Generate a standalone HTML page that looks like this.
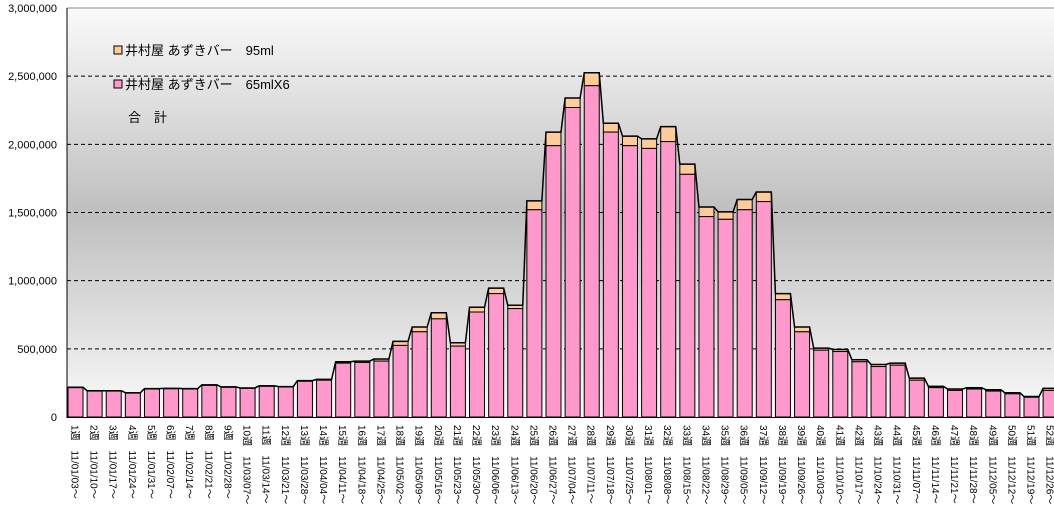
<!DOCTYPE html>
<html><head><meta charset="utf-8"><style>
body{margin:0;background:#fff;}
text{font-family:"Liberation Sans","Noto Sans CJK JP",sans-serif;}
</style></head><body>
<svg id="c" width="1054" height="517" xmlns="http://www.w3.org/2000/svg">
<defs><linearGradient id="bg" x1="0" y1="0" x2="0" y2="1">
<stop offset="0" stop-color="#fafafa"/><stop offset="0.5" stop-color="#bfbfbf"/><stop offset="1" stop-color="#fafafa"/></linearGradient></defs>
<rect x="67" y="8" width="990" height="409" fill="url(#bg)"/>
<line x1="67" y1="8" x2="1054" y2="8" stroke="#888"/>
<g id="grid"></g><g id="bars"></g><g id="lab"></g>
<line x1="67" y1="8" x2="67" y2="418" stroke="#000"/>
<line x1="67" y1="417.5" x2="1054" y2="417.5" stroke="#000"/>
<g>
<rect x="114" y="46" width="8" height="8" fill="#ffcc99" stroke="#000"/>
<text x="125" y="55" font-size="13">井村屋 あずきバー　95ml</text>
<rect x="114" y="80" width="8" height="8" fill="#ff99cc" stroke="#000"/>
<text x="125" y="89" font-size="13">井村屋 あずきバー　65mlX6</text>
<text x="128" y="122" font-size="13">合　計</text>
</g>
</svg>
<script>
const pinkVals=[215,190,190,175,205,207,205,232,218,210,225,220,262,270,395,400,410,525,625,720,520,770,905,795,1520,1990,2270,2430,2090,1990,1970,2020,1780,1470,1450,1520,1580,860,625,490,480,405,370,380,270,215,195,205,190,170,145,195];
const totalVals=[218,193,193,178,208,210,208,236,221,213,229,223,267,276,405,410,425,555,660,765,545,805,945,820,1585,2090,2340,2525,2155,2060,2040,2130,1855,1540,1505,1595,1650,905,660,505,495,420,385,395,285,225,205,215,200,178,150,210];
const UNIT=1000;
const yTicks=[0,500000,1000000,1500000,2000000,2500000,3000000];
const startDate=[2011,0,3];
const NS="http://www.w3.org/2000/svg";
const y=v=>417-v/3000000*409;
const yb=v=>y(v*UNIT);
const x=i=>68+i*19.12;
const W=15;
function mk(t,a,p){const e=document.createElementNS(NS,t);for(const k in a)e.setAttribute(k,a[k]);p.appendChild(e);return e;}
const grid=document.getElementById('grid'),bars=document.getElementById('bars'),lab=document.getElementById('lab');
yTicks.forEach((v,i)=>{
 if(v>0&&v<3000000){const l=mk('line',{x1:67,x2:1054,y1:y(v),y2:y(v),stroke:'#000','stroke-dasharray':'4,3'},grid);
 
 }
 const t=mk('text',{x:57,y:y(v)+4,'text-anchor':'end','font-size':11},lab);
 t.textContent=v.toLocaleString('en-US');
 
 
});
let pts=[];
pinkVals.forEach((p,i)=>{
 const tot=totalVals[i],x0=x(i);
 const o=mk('rect',{x:x0,y:yb(tot),width:W,height:Math.max(0,yb(p)-yb(tot)),fill:'#ffcc99',stroke:'#000','stroke-width':1},bars);
 
 
 const r=mk('rect',{x:x0,y:yb(p),width:W,height:417-yb(p),fill:'#ff99cc',stroke:'#000','stroke-width':1},bars);
 
 
 pts.push(x0+','+yb(tot),(x0+W)+','+yb(tot));
 const d=new Date(startDate[0],startDate[1],startDate[2]+7*i);
 const s=String(d.getFullYear()%100).padStart(2,'0')+'/'+String(d.getMonth()+1).padStart(2,'0')+'/'+String(d.getDate()).padStart(2,'0');
 const cx=x0+W/2-4;
 const t=mk('text',{x:0,y:0,'font-size':10,transform:`translate(${cx},425) rotate(90)`},lab);
 t.textContent=(i+1)+'週　'+s+'～';
 
 
});
const pl=mk('polyline',{points:pts.join(' '),fill:'none',stroke:'#000','stroke-width':1.5},bars);


</script>
</body></html>
